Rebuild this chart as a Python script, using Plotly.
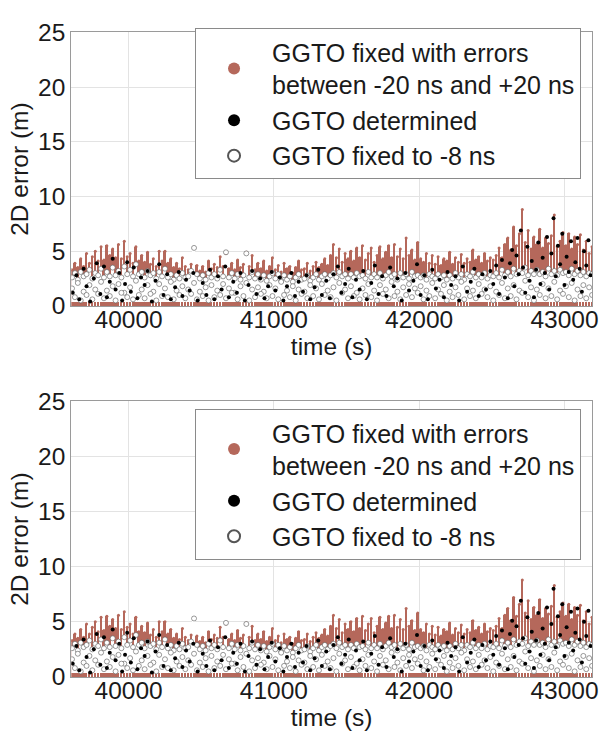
import plotly.graph_objects as go

# ---------------- data ----------------
BIN_START = 39600
BIN_STEP = 20  # s

# upper envelope of the "GGTO fixed with errors" (brown) series, per 20 s bin
brown_top = [
    3.3, 3.9, 3.5, 4.3, 3.6,  4.8, 3.9, 4.5, 5.0, 4.1,
    5.4, 4.2, 5.5, 4.6, 5.2,  4.4, 5.6, 4.3, 5.9, 4.5,
    4.8, 3.9, 5.4, 4.1, 4.6,  4.0, 4.9, 3.8, 4.3, 3.6,
    5.0, 4.1, 5.0, 3.9, 4.3,  3.5, 3.9, 3.4, 4.4, 3.6,
    3.3, 3.8, 5.3, 3.7, 3.2,  3.6, 3.1, 4.1, 3.4, 3.8,
    3.5, 4.5, 3.6, 4.8, 3.4,  3.9, 3.3, 4.2, 3.5, 3.8,
    4.9, 3.6, 4.6, 3.3, 3.9,  3.4, 4.1, 3.2, 3.6, 4.4,
    3.3, 3.7, 3.1, 3.9, 3.4,  3.6, 3.0, 3.5, 4.1, 3.3,
    3.4, 3.9, 3.2, 3.6, 4.0,  3.5, 3.8, 4.3, 3.7, 4.6,
    5.6, 4.4, 5.2, 4.0, 4.8,  4.3, 5.0, 4.1, 5.3, 4.4,
    5.5, 4.2, 4.8, 5.3, 4.0,  4.6, 5.4, 4.3, 4.9, 5.5,
    4.4, 5.6, 4.5, 5.2, 4.3,  6.2, 4.6, 5.1, 4.2, 5.8,
    4.3, 4.0, 4.8, 3.9, 4.6,  3.8, 4.5, 3.7, 4.3, 4.1,
    4.9, 3.8, 4.4, 4.0, 4.7,  3.9, 4.3, 4.0, 5.1, 4.2,
    4.5, 3.9, 4.8, 4.1, 4.4,  4.2, 4.6, 5.3, 4.4, 5.6,
    6.2, 5.1, 7.2, 5.5, 6.6,  8.8, 5.8, 6.9, 5.2, 6.3,
    5.6, 7.0, 5.3, 6.2, 5.7,  6.4, 8.3, 5.4, 5.9, 6.7,
    5.5, 6.6, 5.2, 6.3, 5.6,  6.5, 5.1, 5.9, 4.8, 5.4,
]

# upper envelope of the "GGTO fixed to -8 ns" (white) series, per 20 s bin
white_top = [
    2.6, 3.0, 2.4, 3.1, 2.7,  2.9, 3.3, 2.5, 3.0, 2.8,
    3.4, 2.6, 3.1, 2.7, 3.5,  2.8, 3.2, 2.6, 3.6, 2.9,
    3.3, 2.7, 3.8, 2.9, 3.1,  2.6, 3.2, 2.8, 3.0, 2.5,
    3.1, 2.7, 3.4, 2.6, 2.9,  2.4, 2.8, 2.5, 3.0, 2.6,
    2.7, 3.2, 5.3, 2.9, 2.5,  2.8, 2.4, 3.0, 2.6, 2.9,
    2.5, 3.3, 2.7, 4.9, 2.6,  3.0, 2.5, 2.9, 2.4, 2.8,
    4.8, 2.6, 3.1, 2.5, 2.9,  2.4, 2.8, 2.3, 2.7, 3.0,
    2.5, 2.9, 2.3, 2.8, 2.4,  2.7, 2.2, 2.6, 2.9, 2.4,
    2.5, 2.8, 2.3, 2.6, 2.9,  2.4, 2.7, 2.9, 2.5, 2.8,
    3.0, 2.6, 3.1, 2.7, 2.9,  2.5, 2.9, 2.6, 3.0, 2.7,
    2.8, 2.5, 3.1, 2.6, 2.9,  2.6, 3.0, 2.5, 2.8, 3.1,
    2.7, 2.9, 2.4, 3.0, 2.6,  2.9, 2.5, 3.1, 2.7, 2.8,
    2.6, 2.8, 2.4, 2.9, 2.7,  2.5, 2.9, 2.6, 2.8, 2.4,
    2.8, 2.5, 3.0, 2.6, 2.9,  2.4, 2.9, 2.7, 3.1, 2.6,
    2.9, 2.6, 3.0, 2.5, 2.8,  2.7, 3.0, 2.6, 3.3, 2.8,
    3.1, 2.7, 3.4, 2.9, 3.2,  3.0, 3.5, 2.8, 3.2, 2.9,
    3.3, 2.9, 3.1, 2.7, 3.4,  2.9, 3.2, 2.8, 3.3, 3.0,
    3.1, 2.8, 3.4, 2.9, 3.2,  2.8, 3.1, 2.7, 3.0, 2.9,
]
white_base = 0.3

# further white ("fixed to -8 ns") points inside the white band, one per 40 s
MID_START, LOW_START, SUB_STEP = 39610, 39630, 40
white_mid = [
    1.6, 2.1, 1.3, 1.9, 1.5, 2.2, 1.4, 1.8, 2.0, 1.2,
    1.7, 2.3, 1.5, 1.9, 1.3, 2.0, 1.6, 2.2, 1.4, 1.8,
    1.5, 2.1, 1.3, 1.7, 1.9, 1.4, 2.0, 1.6, 1.2, 1.8,
    2.1, 1.5, 1.7, 1.3, 1.9, 1.6, 2.2, 1.4, 1.8, 1.5,
    1.3, 1.9, 1.6, 2.0, 1.4, 1.7, 2.1, 1.5, 1.8, 1.2,
    1.6, 2.0, 1.4, 1.9, 1.5, 2.2, 1.3, 1.7, 2.0, 1.6,
    1.8, 1.4, 2.1, 1.5, 1.9, 1.3, 1.7, 2.2, 1.6, 1.4,
    2.0, 1.5, 1.8, 1.3, 2.1, 1.6, 1.9, 1.4, 2.3, 1.7,
    1.5, 2.0, 1.6, 2.2, 1.4, 1.8, 2.1, 1.5, 1.9, 1.7,
]
white_low = [
    0.8, 0.5, 1.0, 0.6, 1.1, 0.7, 0.9, 0.5, 1.2, 0.8,
    0.6, 1.0, 0.7, 1.1, 0.5, 0.9, 0.8, 0.6, 1.0, 0.7,
    1.1, 0.6, 0.9, 0.5, 0.8, 1.0, 0.7, 1.2, 0.6, 0.9,
    0.5, 0.8, 1.1, 0.7, 0.9, 0.6, 1.0, 0.8, 0.5, 1.1,
    0.7, 0.9, 0.6, 1.0, 0.8, 0.5, 1.2, 0.7, 0.9, 0.6,
    1.0, 0.8, 0.5, 1.1, 0.7, 0.9, 0.6, 1.0, 0.8, 1.2,
    0.6, 0.9, 0.7, 1.1, 0.5, 0.8, 1.0, 0.6, 0.9, 0.7,
    1.1, 0.8, 0.5, 1.0, 0.7, 0.9, 0.6, 1.2, 0.8, 0.5,
    1.0, 0.7, 0.9, 0.6, 1.1, 0.8, 0.5, 0.9, 0.7, 1.0,
]

# "GGTO determined" (black) sample points
black_t = [
    39615, 39640, 39660, 39690, 39710, 39735, 39760, 39780, 39805, 39830, 39850, 39870,
    39890, 39910, 39935, 39955, 39975, 39990,
    40015, 40035, 40060, 40085, 40110, 40130, 40160, 40185, 40210, 40240, 40265, 40290,
    40320, 40345, 40370, 40395, 40420, 40445, 40475,
    40510, 40535, 40560, 40590, 40615, 40640, 40665, 40690, 40720, 40745, 40770, 40800,
    40825, 40850, 40880, 40905, 40935, 40960, 40985,
    41010, 41040, 41065, 41090, 41120, 41145, 41170, 41200, 41225, 41250, 41280, 41305,
    41330, 41360, 41385, 41410, 41440, 41465, 41490,
    41515, 41540, 41565, 41590, 41615, 41640, 41670, 41695, 41720, 41745, 41775, 41800,
    41825, 41850, 41880, 41905, 41930, 41960, 41985,
    42010, 42035, 42060, 42090, 42115, 42140, 42170, 42195, 42220, 42250, 42275, 42300,
    42330, 42355, 42380, 42410, 42435, 42460, 42490,
    42510, 42530, 42550, 42570, 42590, 42610, 42625, 42640, 42655, 42670, 42685, 42700,
    42715, 42730, 42745, 42760, 42775, 42790, 42805, 42820, 42835, 42850, 42865, 42880,
    42895, 42910, 42925, 42940, 42955, 42970, 42985, 43000, 43015, 43030, 43045, 43060,
    43075, 43090, 43105, 43120, 43135, 43150, 43165, 43180,
]
black_y = [
    1.2, 2.8, 0.6, 3.4, 1.8, 0.4, 2.5, 3.9, 1.1, 3.6, 0.8, 2.2,
    4.3, 1.5, 3.0, 0.5, 2.0, 4.0,
    1.3, 3.5, 0.7, 2.6, 1.9, 3.2, 0.4, 2.3, 3.8, 1.0, 2.9, 0.6,
    1.7, 3.1, 0.9, 2.4, 1.4, 3.0, 0.5,
    2.1, 1.0, 3.3, 0.6, 2.7, 1.5, 3.6, 0.8, 2.2, 1.2, 3.0, 0.5,
    1.9, 3.2, 1.1, 2.5, 0.7, 1.8, 3.1,
    1.4, 2.6, 0.5, 1.8, 3.0, 0.9, 2.2, 1.3, 2.8, 0.6, 1.7, 3.3,
    1.0, 2.3, 0.7, 2.9, 3.6, 1.2, 2.0,
    3.4, 0.8, 2.4, 1.5, 3.2, 0.6, 2.1, 3.7, 1.1, 2.7, 0.9, 3.5,
    1.8, 2.5, 0.5, 3.0, 1.4, 2.3, 3.8,
    1.0, 2.8, 0.6, 3.3, 1.6, 2.4, 0.8, 3.1, 1.9, 2.7, 0.5, 3.6,
    1.3, 2.2, 3.4, 0.9, 2.9, 1.5, 3.2,
    2.0, 3.7, 1.1, 4.2, 2.6, 0.7, 3.9, 5.1, 1.8, 4.6, 2.9, 6.9,
    3.5, 1.2, 5.4, 2.3, 4.1, 0.8, 3.3, 5.8, 2.0, 4.4, 3.0, 6.3,
    1.5, 4.8, 8.0, 2.7, 5.5, 3.8, 6.6, 1.9, 4.5, 3.1, 5.9, 2.4,
    4.0, 6.2, 3.4, 1.3, 5.0, 3.7, 6.0, 2.8,
]

x_ticks = [40000, 41000, 42000, 43000]
x_tick_labels = ["40000", "41000", "42000", "43000"]
y_ticks = [0, 5, 10, 15, 20, 25]
y_tick_labels = ["0", "5", "10", "15", "20", "25"]
x_range = [39605, 43190]
y_range = [0, 25]

legend_names = [
    "GGTO fixed with errors<br>between -20 ns and +20 ns",
    "GGTO determined",
    "GGTO fixed to -8 ns",
]

# ---------------- figure ----------------
BROWN = "#b5685b"
FONT = "Liberation Sans, Arial, sans-serif"
TXT = "#1a1a1a"

bin_centers = [BIN_START + BIN_STEP * (i + 0.5) for i in range(len(brown_top))]
white_heights = [v - white_base for v in white_top]
mid_t = [MID_START + SUB_STEP * i for i in range(len(white_mid))]
low_t = [LOW_START + SUB_STEP * i for i in range(len(white_low))]
white_x = bin_centers + mid_t + low_t
white_y = white_top + white_mid + white_low

fig = go.Figure()

panels = [("x", "y", "legend"), ("x2", "y2", "legend2")]
for xa, ya, lg in panels:
    fig.add_trace(go.Bar(x=bin_centers, y=brown_top, width=BIN_STEP * 0.85,
                         marker=dict(color=BROWN, line=dict(width=0)),
                         xaxis=xa, yaxis=ya, showlegend=False, hoverinfo="skip"))
    fig.add_trace(go.Scatter(x=bin_centers, y=brown_top, mode="markers", name=legend_names[0],
                             marker=dict(color=BROWN, size=3), xaxis=xa, yaxis=ya, legend=lg, legendrank=1))
    fig.add_trace(go.Bar(x=bin_centers, y=white_heights, base=white_base, width=BIN_STEP,
                         marker=dict(color="white", line=dict(width=0)),
                         xaxis=xa, yaxis=ya, showlegend=False, hoverinfo="skip"))
    fig.add_trace(go.Scatter(x=white_x, y=white_y, mode="markers", name=legend_names[2],
                             marker=dict(color="white", size=5, line=dict(color="#555555", width=0.6)),
                             xaxis=xa, yaxis=ya, legend=lg, legendrank=3))
    fig.add_trace(go.Scatter(x=black_t, y=black_y, mode="markers", name=legend_names[1],
                             marker=dict(color="black", size=4), xaxis=xa, yaxis=ya, legend=lg, legendrank=2))

axis_common = dict(
    showline=True, mirror=True, linecolor="#9a9a9a", linewidth=1,
    showgrid=True, gridcolor="#e3e3e3", gridwidth=1,
    zeroline=False, ticks="", tickfont=dict(family=FONT, size=24.5, color=TXT),
    ticklabeloverflow="allow",
)

W, H = 603, 741
def xd(px0, px1):
    return [px0 / W, px1 / W]
def yd(top, bottom):
    return [(H - bottom) / H, (H - top) / H]

title_font = dict(family=FONT, size=24.5, color=TXT)
legend_common = dict(xanchor="left", yanchor="top", bgcolor="white", bordercolor="#8a8a8a", borderwidth=1,
                     font=dict(family=FONT, size=25, color=TXT), itemsizing="constant", itemwidth=66,
                     tracegroupgap=0)
fig.update_layout(
    width=W, height=H, margin=dict(l=0, r=0, t=0, b=0),
    paper_bgcolor="white", plot_bgcolor="white",
    barmode="overlay", bargap=0,
    xaxis=dict(domain=xd(72, 598), range=x_range, tickvals=x_ticks, ticktext=x_tick_labels, anchor="y",
               ticklabelstandoff=-8,
               title=dict(text="time (s)", font=title_font, standoff=0), **axis_common),
    yaxis=dict(domain=yd(20, 304), range=y_range, tickvals=y_ticks, ticktext=y_tick_labels, anchor="x",
               title=dict(text="2D error (m)", font=title_font, standoff=2), **axis_common),
    xaxis2=dict(domain=xd(72, 598), range=x_range, tickvals=x_ticks, ticktext=x_tick_labels, anchor="y2",
                ticklabelstandoff=-8,
                title=dict(text="time (s)", font=title_font, standoff=0), **axis_common),
    yaxis2=dict(domain=yd(403, 689), range=y_range, tickvals=y_ticks, ticktext=y_tick_labels, anchor="x2",
                title=dict(text="2D error (m)", font=title_font, standoff=2), **axis_common),
    legend=dict(x=197 / W, y=(H - 16) / H, **legend_common),
    legend2=dict(x=197 / W, y=(H - 411) / H, **legend_common),
)

fig.write_html("out.html")
